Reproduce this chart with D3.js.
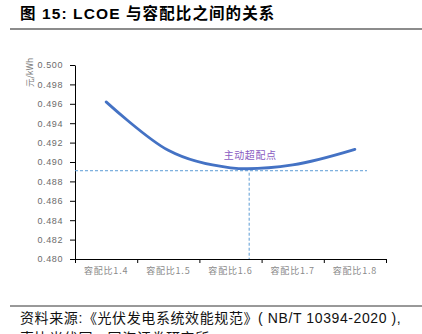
<!DOCTYPE html>
<html>
<head>
<meta charset="utf-8">
<script src="https://cdn.jsdelivr.net/npm/d3@7"></script>
<style>
  html, body { margin: 0; padding: 0; background: #fff; }
  svg { display: block; }
</style>
</head>
<body>
<svg id="chart" width="422" height="334"></svg>
<script>
// Capacity ratio categories and the LCOE at each one (元/kWh)
const ratios = [1.4, 1.5, 1.6, 1.7, 1.8];
const categoryLabels = ["容配比1.4", "容配比1.5", "容配比1.6", "容配比1.7", "容配比1.8"];
const lcoe = [0.4962, 0.4912, 0.4894, 0.4897, 0.4913];
const yTicks = [0.480, 0.482, 0.484, 0.486, 0.488, 0.490, 0.492, 0.494, 0.496, 0.498, 0.500];
// Active over-provisioning point
const optimumRatio = [1.63];
const optimumLcoe = [0.4891];
const optimumLabel = "主动超配点";

const svg = d3.select("#chart");
const cjk = "'Noto Sans CJK SC', 'Noto Sans', sans-serif";
const latin = "'Liberation Sans', Arial, 'Noto Sans CJK SC', sans-serif";

// Title and rule
svg.append("text")
  .attr("x", 20).attr("y", 19)
  .attr("font-family", latin)
  .attr("font-weight", "bold")
  .attr("font-size", 15.5)
  .attr("letter-spacing", 1.1)
  .attr("fill", "#000")
  .text("图 15:  LCOE 与容配比之间的关系");
svg.append("line")
  .attr("x1", 10).attr("x2", 422).attr("y1", 29).attr("y2", 29)
  .attr("stroke", "#8c8c8c").attr("stroke-width", 2);

// Scales: categories occupy equal slots, ticks on slot boundaries
const x = d3.scaleLinear().domain([1.35, 1.85]).range([75, 386]);
const y = d3.scaleLinear().domain([0.480, 0.500]).range([259, 65]);

// Y axis
const yAxis = svg.append("g")
  .attr("transform", `translate(${x.range()[0]},0)`)
  .call(d3.axisLeft(y).tickValues(yTicks).tickFormat(d3.format(".3f")).tickSize(5).tickSizeOuter(0));
yAxis.select(".domain").attr("stroke", "#000");
yAxis.selectAll(".tick line").attr("stroke", "#000");
yAxis.selectAll(".tick text")
  .attr("x", -12)
  .attr("font-family", latin)
  .attr("font-size", 9)
  .attr("letter-spacing", 0.6)
  .attr("fill", "#6b6b6b");

// Y unit, rotated along the axis
svg.append("text")
  .attr("transform", "translate(33,87) rotate(-90)")
  .attr("font-family", cjk)
  .attr("font-size", 8.5)
  .attr("fill", "#7a7a7a")
  .text("元/kWh");

// X axis with boundary ticks
const boundaries = d3.range(0, ratios.length + 1).map(i => 1.35 + i * 0.1);
const xAxis = svg.append("g")
  .attr("transform", `translate(0,${y.range()[0]})`)
  .call(d3.axisBottom(x).tickValues(boundaries).tickFormat("").tickSize(4).tickSizeOuter(0));
xAxis.select(".domain").attr("stroke", "#000");
xAxis.selectAll(".tick line").attr("stroke", "#000");

svg.append("g").selectAll("text")
  .data(ratios)
  .join("text")
  .attr("x", d => x(d))
  .attr("y", 274)
  .attr("text-anchor", "middle")
  .attr("font-family", cjk)
  .attr("font-size", 9)
  .attr("letter-spacing", 0.8)
  .attr("fill", "#8a8a8a")
  .text((d, i) => categoryLabels[i]);

// Guide lines at the optimum
svg.append("line")
  .attr("x1", x.range()[0]).attr("x2", 367)
  .attr("y1", y(optimumLcoe[0])).attr("y2", y(optimumLcoe[0]))
  .attr("stroke", "#5b9bd5").attr("stroke-width", 1)
  .attr("stroke-dasharray", "3,2");
svg.append("line")
  .attr("x1", x(optimumRatio[0])).attr("x2", x(optimumRatio[0]))
  .attr("y1", y(optimumLcoe[0]) + 2).attr("y2", y.range()[0])
  .attr("stroke", "#5b9bd5").attr("stroke-width", 1)
  .attr("stroke-dasharray", "3,2");

// LCOE curve
const line = d3.line()
  .x((d, i) => x(ratios[i]))
  .y(d => y(d))
  .curve(d3.curveCardinal.tension(0));
svg.append("path")
  .datum(lcoe)
  .attr("d", line)
  .attr("fill", "none")
  .attr("stroke", "#4472c4")
  .attr("stroke-width", 2.8)
  .attr("stroke-linecap", "round");

// Optimum label
svg.append("text")
  .attr("x", x(optimumRatio[0]) + 1)
  .attr("y", 159)
  .attr("text-anchor", "middle")
  .attr("font-family", cjk)
  .attr("font-size", 10)
  .attr("letter-spacing", 0.6)
  .attr("fill", "#8a5cc2")
  .text(optimumLabel);

// Source note
svg.append("line")
  .attr("x1", 10).attr("x2", 422).attr("y1", 306).attr("y2", 306)
  .attr("stroke", "#333").attr("stroke-width", 1);
svg.append("text")
  .attr("x", 20).attr("y", 323)
  .attr("font-family", latin)
  .attr("font-size", 14)
  .attr("letter-spacing", 0.6)
  .attr("fill", "#111")
  .text("资料来源:《光伏发电系统效能规范》( NB/T 10394-2020 ),");
svg.append("text")
  .attr("x", 20).attr("y", 343)
  .attr("font-family", latin)
  .attr("font-size", 14)
  .attr("letter-spacing", 0.6)
  .attr("fill", "#111")
  .text("索比光伏网，国海证券研究所");
</script>
</body>
</html>
